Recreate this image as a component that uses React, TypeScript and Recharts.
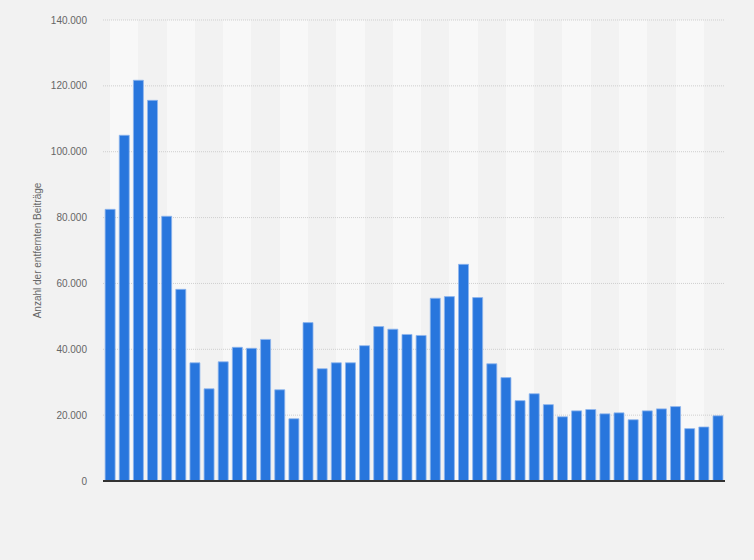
import React from 'react';
import { BarChart, Bar, XAxis, YAxis, CartesianGrid } from 'recharts';

// periods (no labels are shown on the x axis in the original)
const periods = [
  '1', '2', '3', '4', '5', '6', '7', '8', '9', '10', '11',
  '12', '13', '14', '15', '16', '17', '18', '19', '20', '21', '22',
  '23', '24', '25', '26', '27', '28', '29', '30', '31', '32', '33',
  '34', '35', '36', '37', '38', '39', '40', '41', '42', '43', '44',
];

const removedPosts = [
  82500, 105000, 121700, 115600, 80400, 58200, 35900, 28000, 36200, 40600, 40300,
  43000, 27700, 18900, 48100, 34100, 35900, 35900, 41100, 46900, 46100, 44500,
  44200, 55500, 56000, 65800, 55700, 35600, 31400, 24400, 26500, 23200, 19500,
  21300, 21700, 20400, 20700, 18600, 21300, 21900, 22600, 15900, 16400, 19800,
];

const yTicks = [0, 20000, 40000, 60000, 80000, 100000, 120000, 140000];

const data = periods.map((period, i) => ({ period, value: removedPosts[i] }));

const formatTick = (v: number): string => v.toLocaleString('de-DE');

// stripe boundaries at the centre of every second category
const stripeGenerator = ({ xAxis, offset }: any): number[] => {
  const scale = xAxis?.scale;
  const bw = scale && typeof scale.bandwidth === 'function' ? scale.bandwidth() : 0;
  const centre = (p: string, i: number): number => {
    if (typeof scale === 'function') return scale(p) + bw / 2;
    if (scale && typeof scale.map === 'function') {
      const v = scale.map(p);
      if (Number.isFinite(v)) return v + bw / 2;
    }
    // fallback: equal bands over the plot width
    return offset.left + ((i + 0.5) * offset.width) / periods.length;
  };
  return periods
    .map((p, i) => (i % 2 === 0 ? centre(p, i) : NaN))
    .filter((v) => Number.isFinite(v));
};

const font = '"Liberation Sans", Arial, sans-serif';

export default function App() {
  return (
    <div
      style={{
        position: 'absolute',
        left: 0,
        top: 0,
        width: 754,
        height: 560,
        background: '#f2f2f2',
        fontFamily: font,
      }}
    >
      <BarChart
        width={754}
        height={560}
        data={data}
        margin={{ top: 20, right: 29, left: 33, bottom: 78 }}
        barCategoryGap="15%"
      >
        <CartesianGrid
          horizontal={false}
          vertical
          stroke="none"
          strokeOpacity={0}
          verticalFill={['#f2f2f2', '#f8f8f8']}
          fillOpacity={1}
          verticalCoordinatesGenerator={stripeGenerator}
        />
        <CartesianGrid vertical={false} stroke="#cfcfcf" strokeDasharray="1 1" />
        <XAxis
          dataKey="period"
          height={1}
          tick={false}
          tickLine={false}
          axisLine={{ stroke: '#333333', strokeWidth: 1.8 }}
        />
        <YAxis
          width={70}
          domain={[0, 140000]}
          ticks={yTicks}
          tickFormatter={formatTick}
          tickSize={0}
          tickMargin={16}
          axisLine={false}
          tick={{ fontSize: 10, fill: '#666666', fontFamily: font }}
          label={{
            value: 'Anzahl der entfernten Beiträge',
            angle: -90,
            position: 'insideLeft',
            offset: 4,
            style: { textAnchor: 'middle', fontSize: 10, fill: '#666666', fontFamily: font },
          }}
        />
        <Bar
          dataKey="value"
          fill="#2876dd"
          stroke="#8fb6ee"
          strokeWidth={0.8}
          isAnimationActive={false}
        />
      </BarChart>
    </div>
  );
}
